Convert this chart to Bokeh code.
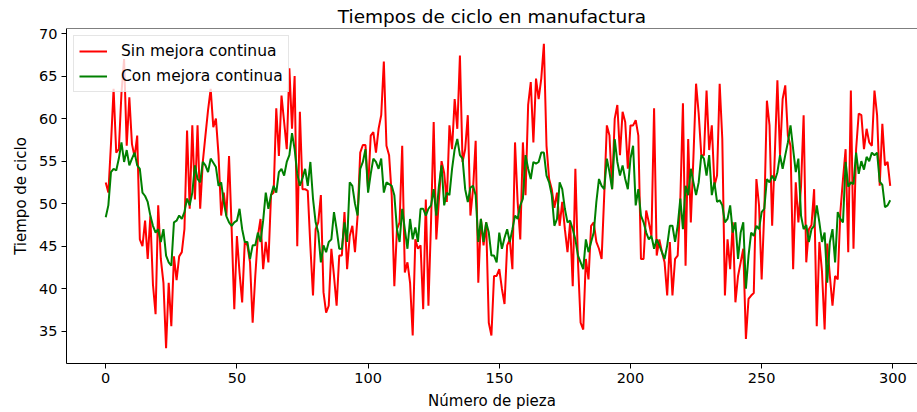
from bokeh.plotting import figure
from bokeh.models import Range1d, FixedTicker, Span
from bokeh.embed import file_html
from bokeh.resources import INLINE

# ---- data ----
pieza = list(range(300))

sin_mejora = [
    52.5, 51.3, 57, 63.5, 56, 56.4, 63, 67, 56.8, 62.5, 57, 55.5, 58, 45.8, 45, 48, 43.5, 48.5, 40.5, 37,
    49.8, 43.5, 40.7, 33, 40.7, 35.6, 43.8, 41, 43.8, 44.3, 47, 58.6, 49.4, 59.2, 50.5, 59.2, 49.4, 54.9,
    58, 61, 63.5, 59, 60, 55.7, 48.6, 51.3, 48.6, 55.6, 47, 37.6, 46.2, 41.9, 38.4, 45.5, 45.1, 43.1, 36,
    41.5, 46.2, 48.2, 42.3, 45.5, 43.1, 51, 51.3, 61.2, 55.6, 62.7, 59.6, 56.4, 65.9, 58.8, 65, 45, 60.8,
    51.7, 51.7, 51.5, 45, 39.2, 47, 47.8, 51, 39.6, 37.2, 38, 44.7, 41.5, 38, 43.9, 43.9, 49, 42.3, 46.2,
    47.4, 44.3, 48.6, 56, 56.9, 56.9, 51.7, 58, 58.4, 56, 58.8, 60.4, 66.7, 56.8, 55.7, 51, 40.3, 47, 47.8,
    56.8,
    41.9, 43.1, 40.7, 34.5, 45.8, 44.7, 45.1, 37.6, 50.5, 38, 48, 59.6, 45.8, 50.5, 55, 53.6, 50.2, 59.2,
    56.4, 62.3, 58.8, 67.4, 54.9, 56.4, 60.4, 48.6, 51.7, 57.4, 40.7, 48.2, 45.1, 47.8, 36, 34.5, 41.5,
    41.5, 42.3, 40,
    38.2, 45.1, 45.8, 42.3, 57.2, 50.2, 45.8, 57.2, 51, 61.6, 64.3, 57.2, 64.7, 62.3, 64.7, 68.8, 56.8,
    52.9, 51.7, 49.5, 51.3, 47.4, 50.2, 47, 44.3, 47.8, 40.3, 54.1, 43.1, 36, 35.2, 43.5, 41.1, 47.4, 47.8,
    45.5, 44.7, 43.5,
    51, 59.2, 58, 51.7, 60, 61.6, 55.7, 60.8, 59.6, 54.1, 59.2, 59.2, 59.8, 58, 43.5, 43.5, 49.2, 47.8,
    46.2, 61.2, 43.9, 45.8, 44.3, 43.1, 39.2, 45.5, 39.2, 43.5, 43.9, 50.4, 61.8, 42.7, 57.6, 47.8, 55.5,
    64.1, 60.6, 55.7,
    55.7, 63.3, 56.3, 59.2, 52.1, 53.3, 64.1, 57.6, 39.2, 45.8, 42.3, 47.8, 38.4, 41.5, 43.1, 44.7, 34.1,
    38.8, 39.2, 39.5, 52.9, 49.8, 41.1, 49, 62.1, 59.2, 47.4, 55.7, 64.5, 55.7, 62.3, 63.9, 58, 56.8, 42.3,
    52.5, 47.8, 52,
    60.4, 43.1, 47, 47.5, 51.7, 35.6, 45.5, 42, 35.2, 45.3, 41.5, 38, 41.5, 41.1, 49, 52.9, 56.4, 44.3,
    63.3, 44.7, 56.4, 60.6, 60.4, 56.4, 58.8, 57.2, 56.8, 63.3, 60.4, 52.1, 59.4, 54.5, 54.9, 52.1,
]

con_mejora = [
    48.4, 49.8, 53.7, 54.1, 53.9, 55.3, 57.2, 54.9, 56.3, 54.5, 55.3, 56, 54.5, 54.1, 51.3, 50.9, 50.2,
    48.6, 47.4, 46.6, 47, 45.5, 47, 43.9, 43.1, 42.7, 47.8, 48, 48.6, 48.2, 49, 50.6, 49.8, 51.3, 54.5,
    52.9, 52.5, 54.9,
    54.5, 53.7, 55.3, 54.8, 54.3, 52.1, 52.5, 50.2, 48.5, 47.8, 47.4, 47.8, 48, 49.4, 47, 45.5, 45.5, 43.5,
    45.1, 45.1, 46.6, 45.5, 48, 51.3, 49.4, 51, 52.1, 51.3, 53.7, 54.1, 53.3, 54.9, 55.7, 58.3, 56.4, 53.5,
    52.1,
    53, 54.1, 52.1, 54.9, 50.6, 47.8, 46.6, 43.1, 45.1, 44.3, 45.5, 45.8, 49, 47, 44.7, 44.7, 47.8, 45.5,
    52.5, 52.1, 50, 48.6, 54.1, 54.9, 56.4, 51.3, 53.5, 55.3, 54.9, 54.1, 55.3, 51.3, 52.5, 52.3, 52.1, 51,
    47, 45.5, 49.4,
    47, 44.7, 48.2, 45.8, 47.2, 45.5, 49.4, 49.4, 48.6, 49.4, 49.8, 51.7, 48.6, 52.1, 54.5, 49.8, 51.3, 51,
    54.1, 56.4, 57.6, 55.7, 55.3, 51.7, 50.2, 51.9, 52.1, 51, 45.5, 48.2, 45.5, 47.8, 46.6, 43.9, 43.9,
    43.1, 46.6, 44.7,
    46, 47, 45.5, 47, 48.6, 48.2, 49.8, 50.6, 55.7, 54.1, 52.9, 54.9, 54.7, 54.9, 56, 56, 53.3, 52.5, 51,
    47.4, 48.2, 52.5, 51.7, 49.4, 47.8, 48, 47, 45.8, 43.9, 43.1, 42.3, 45.8, 44.3, 45.5, 46.6, 50.2, 52.9,
    52.1,
    51.7, 55.3, 53.7, 51.7, 57.6, 54.9, 53.3, 54.5, 52.9, 51.7, 55.3, 56.8, 49.8, 51.7, 48.6, 47.8, 46.6,
    45.8, 46.2, 44.7, 45.8, 45.1, 44.3, 43.5, 45.1, 47.4, 47.4, 45.5, 47.4, 50.6, 47, 52.1, 51, 54.1, 52.5,
    51, 52.5, 55.7,
    55.3, 53.3, 55.7, 51, 52.5, 50.2, 50.4, 49.8, 47.8, 48.2, 49.8, 46.6, 47.8, 43.5, 46.6, 47.8, 40, 43.9,
    46.6, 46.2, 47.4, 47, 49, 49.4, 52.9, 52.5, 53.3, 52.7, 53.7, 55.7, 54.1, 55.7, 57.2, 59.2, 56.4, 53.7,
    55.3,
    48.6, 47, 47.5, 45.5, 47, 47.4, 49.8, 47.8, 45.5, 46.6, 40.7, 45.5, 47, 43.1, 49, 48.2, 47.8,
    54.9, 52, 52.5, 52.3, 56, 53.5, 55, 54, 55.5, 55, 56, 55.7, 56, 52.6, 52.2, 49.6, 49.8, 50.4,
]

x_ticks = [0, 50, 100, 150, 200, 250, 300]
y_ticks = [35, 40, 45, 50, 55, 60, 65, 70]

titulo = "Tiempos de ciclo en manufactura"
etiqueta_x = "Número de pieza"
etiqueta_y = "Tiempo de ciclo"
serie_1 = "Sin mejora continua"
serie_2 = "Con mejora continua"

# ---- ranges (matplotlib-like 5% margins) ----
allv = sin_mejora + con_mejora
lo, hi = min(allv), max(allv)
pad = (hi - lo) * 0.05
ymin, ymax = lo - pad, hi + pad
xmin = -0.05 * (len(pieza) - 1)

FONT = "DejaVu Sans"

p = figure(width=917, height=412, output_backend="svg", toolbar_location=None,
           x_range=Range1d(xmin, 309.4), y_range=Range1d(ymin, ymax),
           min_border_left=66, min_border_right=0, min_border_top=28, min_border_bottom=47)

p.title.text = titulo
p.title.align = "center"
p.title.text_font = FONT
p.title.text_font_size = "18.5px"
p.title.text_font_style = "normal"
p.title.text_color = "black"
p.title.standoff = 4
p.title.offset = 6

p.outline_line_color = None
p.xgrid.visible = False
p.ygrid.visible = False
p.background_fill_color = "white"
p.border_fill_color = "white"

for ax in (p.xaxis[0], p.yaxis[0]):
    ax.axis_line_color = "black"
    ax.axis_line_width = 1
    ax.major_tick_line_color = "black"
    ax.major_tick_out = 5
    ax.major_tick_in = 0
    ax.minor_tick_out = 0
    ax.minor_tick_in = 0
    ax.major_label_text_font = FONT
    ax.major_label_text_font_size = "14.5px"
    ax.major_label_text_color = "black"
    ax.major_label_standoff = 4
    ax.axis_label_text_font = FONT
    ax.axis_label_text_font_size = "15px"
    ax.axis_label_text_font_style = "normal"
    ax.axis_label_text_color = "black"
    ax.axis_label_standoff = 6

p.xaxis.ticker = FixedTicker(ticks=x_ticks)
p.yaxis.ticker = FixedTicker(ticks=y_ticks)
p.xaxis.axis_label = etiqueta_x
p.yaxis.axis_label = etiqueta_y

top_spine = Span(location=ymax, dimension="width", line_color="black", line_width=1)
p.add_layout(top_spine)

p.line(pieza, sin_mejora, line_color="red", line_width=2, legend_label=serie_1)
p.line(pieza, con_mejora, line_color="green", line_width=2, legend_label=serie_2)

lg = p.legend[0]
lg.location = "top_left"
lg.margin = 7
lg.padding = 5
lg.spacing = 5
lg.glyph_width = 28
lg.glyph_height = 20
lg.label_height = 20
lg.label_standoff = 14
lg.label_text_font = FONT
lg.label_text_font_size = "15.5px"
lg.label_text_color = "black"
lg.border_line_color = "#cccccc"
lg.border_line_width = 1
lg.background_fill_alpha = 0.8

open("out.html", "w").write(file_html(p, INLINE))
